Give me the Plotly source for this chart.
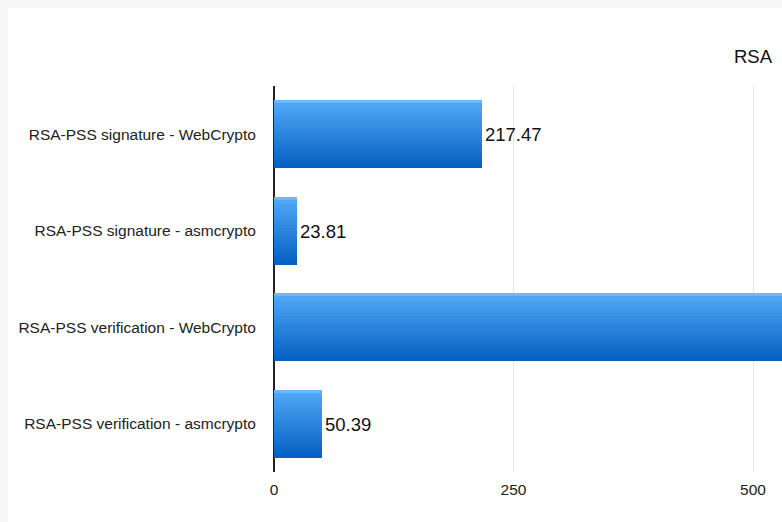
import plotly.graph_objects as go

# ---- data ----
categories = [
    "RSA-PSS signature - WebCrypto",
    "RSA-PSS signature - asmcrypto",
    "RSA-PSS verification - WebCrypto",
    "RSA-PSS verification - asmcrypto",
]
values = [217.47, 23.81, 1180.0, 50.39]  # third value lies beyond the visible frame (estimated)
value_labels = ["217.47", "23.81", "", "50.39"]  # third label lies off-frame in the reference
x_tick_vals = [0, 250, 500]
x_tick_text = ["0", "250", "500"]
title_text = "RSA"

# ---- geometry ----
W, H = 782, 522
ML, MR, MT, MB = 274, 0, 86, 50
PW, PH = W - ML - MR, H - MT - MB
px_per_unit = 0.958
x_max = PW / px_per_unit
bar_w = 0.70

FONT = "Liberation Sans, Arial, Helvetica, sans-serif"

def lerp(c1, c2, t):
    return "rgb(%d,%d,%d)" % tuple(round(a + (b - a) * t) for a, b in zip(c1, c2))

top_c = (0x52, 0xA9, 0xF7)
bot_c = (0x06, 0x60, 0xC2)

fig = go.Figure()
N = 24
step = bar_w / N
for k in range(N):
    t = k / (N - 1)
    col = lerp(top_c, bot_c, t)
    if k == 0:
        col = "rgb(108,184,248)"
    w = step * 1.6 if k < N - 1 else step
    fig.add_trace(go.Bar(
        x=values, y=categories, orientation="h",
        width=[w] * len(values), offset=[-bar_w / 2 + k * step] * len(values),
        marker=dict(color=col, line=dict(width=0)),
        hoverinfo="skip", showlegend=False,
    ))

# transparent full-width bar carrying the value labels
fig.add_trace(go.Bar(
    x=values, y=categories, orientation="h", width=bar_w,
    marker=dict(color="rgba(0,0,0,0)", line=dict(width=0)),
    text=value_labels, textposition="outside", constraintext="none",
    textfont=dict(family=FONT, size=18.5, color="#111"),
    hoverinfo="skip", showlegend=False,
))

# page frame: gray border at top/left, white card
x0 = (8 - ML) / PW
y1 = 1 + (MT - 8) / PH
yb = -MB / PH
fig.add_shape(type="rect", xref="paper", yref="paper", x0=x0, x1=1.2, y0=yb - 0.1, y1=y1,
              fillcolor="white", line=dict(width=0), layer="below")

fig.update_layout(
    width=W, height=H,
    margin=dict(l=ML, r=MR, t=MT, b=MB, pad=0),
    paper_bgcolor="#f6f6f6", plot_bgcolor="rgba(0,0,0,0)",
    barmode="overlay",
    bargap=0,
    font=dict(family=FONT, color="#222"),
    title=dict(text=title_text, x=(753 - ML) / PW, xref="paper", xanchor="center",
               y=1 - 57 / H, yref="container", yanchor="middle",
               font=dict(size=18.5, color="#111", family=FONT)),
    xaxis=dict(range=[0, x_max], tickvals=x_tick_vals, ticktext=x_tick_text,
               showgrid=True, gridcolor="#e4e4e4", gridwidth=1,
               zeroline=True, zerolinecolor="#222", zerolinewidth=2,
               showline=False, ticks="outside", ticklen=3, tickcolor="rgba(0,0,0,0)",
               tickfont=dict(size=15.5, color="#222"), fixedrange=True),
    yaxis=dict(categoryorder="array", categoryarray=categories, autorange="reversed",
               showgrid=False, zeroline=False, showline=False,
               ticks="outside", ticklen=14, tickcolor="rgba(0,0,0,0)",
               tickfont=dict(size=15.5, color="#222"), fixedrange=True),
)

fig.write_html("out.html", config={"displayModeBar": False})
